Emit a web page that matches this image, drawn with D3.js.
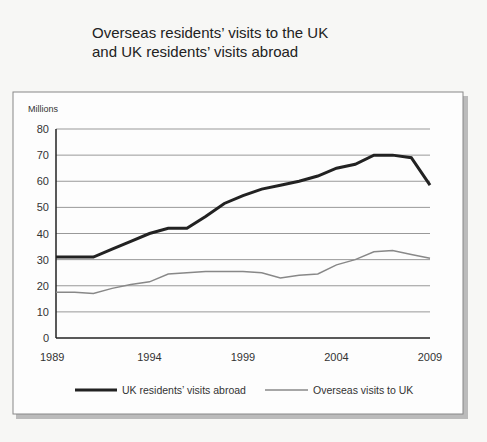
<!DOCTYPE html>
<html><head><meta charset="utf-8">
<script src="https://cdn.jsdelivr.net/npm/d3@7"></script>
<style>body{margin:0;background:#f7f7f5;font-family:"Liberation Sans",Arial,sans-serif}</style>
</head><body>
<script>
var years = d3.range(1989, 2010);
var ukAbroad = [31, 31, 31, 34, 37, 40, 42, 42, 46.5, 51.5, 54.5, 57, 58.5, 60, 62, 65, 66.5, 70, 70, 69, 58.5];
var overseas = [17.5, 17.5, 17, 19, 20.5, 21.5, 24.5, 25, 25.5, 25.5, 25.5, 25, 23, 24, 24.5, 28, 30, 33, 33.5, 32, 30.5];
var yTicks = [0, 10, 20, 30, 40, 50, 60, 70, 80];
var xTicks = [1989, 1994, 1999, 2004, 2009];

var svg = d3.select("body").append("svg").attr("width", 487).attr("height", 442);

svg.append("text").attr("x", 92).attr("y", 38).attr("font-size", 15).attr("fill", "#222")
  .text("Overseas residents\u2019 visits to the UK");
svg.append("text").attr("x", 92).attr("y", 57).attr("font-size", 15).attr("fill", "#222")
  .text("and UK residents\u2019 visits abroad");

// box with shadow
svg.append("rect").attr("x", 16).attr("y", 96).attr("width", 452).attr("height", 323).attr("fill", "#bbb");
svg.append("rect").attr("x", 13).attr("y", 92).attr("width", 450).attr("height", 322)
  .attr("fill", "#fdfdfd").attr("stroke", "#888");

var x = d3.scaleLinear().domain([1989, 2009]).range([56, 430]);
var y = d3.scaleLinear().domain([0, 80]).range([338, 129]);

svg.append("text").attr("x", 28).attr("y", 112).attr("font-size", 9).attr("fill", "#333").text("Millions");

svg.selectAll(".grid").data(yTicks).enter().append("line")
  .attr("x1", x(1989)).attr("x2", x(2009))
  .attr("y1", d => y(d)).attr("y2", d => y(d))
  .attr("stroke", d => d == 0 ? "#222" : "#999").attr("stroke-width", d => d == 0 ? 1.5 : 1);
svg.append("line").attr("x1", x(1989)).attr("x2", x(1989)).attr("y1", y(80)).attr("y2", y(0))
  .attr("stroke", "#222").attr("stroke-width", 1.5);

svg.selectAll(".yl").data(yTicks).enter().append("text")
  .attr("x", 49).attr("y", d => y(d) + 4).attr("text-anchor", "end")
  .attr("font-size", 11).attr("fill", "#333").text(d => d);
svg.selectAll(".xl").data(xTicks).enter().append("text")
  .attr("x", d => x(d)).attr("y", 361).attr("text-anchor", d => d == 1989 ? "start" : "middle")
  .attr("dx", d => d == 1989 ? -16 : 0)
  .attr("font-size", 11).attr("fill", "#333").text(d => d);

var line = d3.line().x((d, i) => x(years[i])).y(d => y(d));
svg.append("path").datum(overseas).attr("d", line).attr("fill", "none").attr("stroke", "#888").attr("stroke-width", 1.5);
svg.append("path").datum(ukAbroad).attr("d", line).attr("fill", "none").attr("stroke", "#222").attr("stroke-width", 3);

svg.append("line").attr("x1", 75).attr("x2", 117).attr("y1", 390).attr("y2", 390).attr("stroke", "#222").attr("stroke-width", 3);
svg.append("text").attr("x", 122).attr("y", 394).attr("font-size", 10.5).attr("fill", "#333").text("UK residents\u2019 visits abroad");
svg.append("line").attr("x1", 265).attr("x2", 308).attr("y1", 390).attr("y2", 390).attr("stroke", "#888").attr("stroke-width", 1.5);
svg.append("text").attr("x", 313).attr("y", 394).attr("font-size", 10.5).attr("fill", "#333").text("Overseas visits to UK");
</script>
</body></html>
